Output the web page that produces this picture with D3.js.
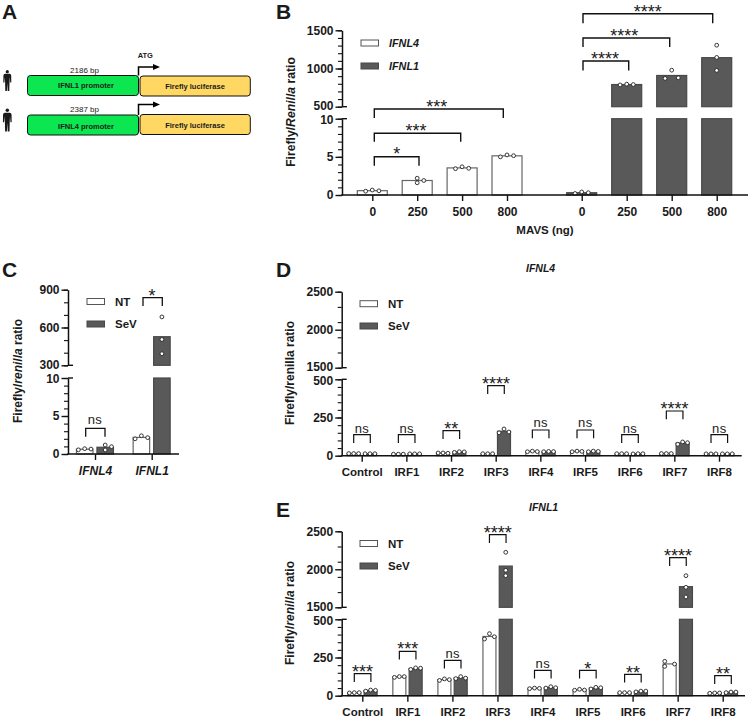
<!DOCTYPE html>
<html><head><meta charset="utf-8">
<script src="https://cdn.jsdelivr.net/npm/d3@7"></script>
<style>
html,body{margin:0;padding:0;background:#fff}
svg{display:block}
text{font-family:"Liberation Sans",Arial,sans-serif;fill:#1a1a1a}
</style></head><body>
<svg id="c" width="750" height="717"></svg>
<script>
// ---------- DATA ----------
const mavsDoses = ["0","250","500","800"];
const bIFNL4 = [[0.5,0.65,0.55],[1.6,2.2,1.9],[3.45,3.7,3.5],[5.0,5.25,5.15]];
const bIFNL1 = [[0.2,0.4,0.3],[785,795,790],[870,978,878],[975,1145,1305]];
const bSigIFNL4 = ["*","***","***"];
const bSigIFNL1 = ["****","****","****"];

const cGenes = ["IFNL4","IFNL1"];
const cNT = [[0.55,0.7,0.65],[2.0,2.4,2.15]];
const cSeV = [[1.18,0.53,0.96],[684,505,392]];
const cSig = ["ns","*"];

const irfCats = ["Control","IRF1","IRF2","IRF3","IRF4","IRF5","IRF6","IRF7","IRF8"];
const dNT = [[14,14,14],[10,10,10],[18,18,16],[13,13,13],[26,30,27],[26,30,28],[13,13,13],[14,14,14],[12,12,12]];
const dSeV = [[13,13,13],[12,12,12],[22,26,25],[150,175,155],[26,28,27],[26,30,28],[12,13,13],[75,90,85],[12,12,12]];
const dSig = ["ns","ns","**","****","ns","ns","ns","****","ns"];
const eNT = [[18,20,20],[120,125,125],[100,110,105],[371,406,386],[46,50,48],[36,42,37],[20,20,20],[225,192,207],[16,18,18]];
const eSeV = [[30,37,35],[172,182,180],[112,125,115],[2224,1987,1916],[50,59,52],[44,55,52],[25,30,30],[1916,1763,1636],[20,24,24]];
const eSig = ["***","***","ns","****","ns","*","**","****","**"];

const seriesTreat = ["NT","SeV"];
const seriesGene = ["IFNL4","IFNL1"];

// ---------- LAYOUT / STYLE ----------
const DEFAULT_SWARM = [-1,0,1];
const dark = "#595959", edgeDark = "#484848", edgeLight = "#666";
const svg = d3.select("#c");

function brokenY(p){
  return {
    low: d3.scaleLinear().domain(p.lowDomain).range([p.y0,p.yLowTop]),
    up: d3.scaleLinear().domain(p.upDomain).range([p.yUpBot,p.yUpTop])
  };
}
function drawBars(g,p,ys,cx,vals,filled,swarm){
  const m = d3.mean(vals);
  const fill = filled?dark:"#fff", st = filled?edgeDark:edgeLight;
  const lowTop = Math.min(m,p.lowDomain[1]);
  g.append("rect").attr("x",cx-p.barW/2).attr("width",p.barW)
    .attr("y",ys.low(lowTop)).attr("height",ys.low(0)-ys.low(lowTop))
    .attr("fill",fill).attr("stroke",st).attr("stroke-width",1.2);
  if(m>p.upDomain[0]){
    g.append("rect").attr("x",cx-p.barW/2).attr("width",p.barW)
      .attr("y",ys.up(m)).attr("height",ys.up(p.upDomain[0])-ys.up(m))
      .attr("fill",fill).attr("stroke",st).attr("stroke-width",1.2);
  }
  const off = swarm||DEFAULT_SWARM;
  vals.forEach((v,i)=>{
    const y = v>p.lowDomain[1]?ys.up(v):ys.low(v);
    g.append("circle").attr("cx",cx+off[i]*p.step).attr("cy",y).attr("r",1.9)
      .attr("fill","#fff").attr("stroke","#222").attr("stroke-width",0.9);
  });
}
function drawYAxis(p,ys){
  const fmt = d3.format("d");
  [[ys.low,p.lowMajor,p.lowMinor,p.lowDomain[1],1],[ys.up,p.upMajor,p.upMinor,p.upDomain[0],-1]].forEach(([s,maj,min,edge,dir])=>{
    const minor = svg.append("g").attr("transform",`translate(${p.axisX},0)`)
      .call(d3.axisLeft(s).tickValues(min).tickSize(4).tickFormat("").tickSizeOuter(0));
    minor.selectAll("line").attr("stroke","#111").attr("stroke-width",1.1);
    minor.select(".domain").attr("stroke","#111").attr("stroke-width",1.5);
    const major = svg.append("g").attr("transform",`translate(${p.axisX},0)`)
      .call(d3.axisLeft(s).tickValues(maj).tickSize(6.5).tickPadding(2).tickFormat(fmt).tickSizeOuter(0));
    major.select(".domain").remove();
    major.selectAll("line").attr("stroke","#111").attr("stroke-width",1.4);
    major.selectAll("text").attr("font-size",12).attr("font-weight","bold")
      .attr("font-family",'"Liberation Sans"').attr("fill","#1a1a1a")
      .attr("transform",d=>d===edge?`translate(0,${dir*0.95})`:null);
  });
  // break caps
  [ys.low(p.lowDomain[1]),ys.up(p.upDomain[0])].forEach(y=>{
    svg.append("line").attr("x1",p.axisX).attr("x2",p.axisX+5).attr("y1",y).attr("y2",y)
      .attr("stroke","#111").attr("stroke-width",1.4);
  });
}
function drawXAxis(p,scale,size,italic){
  const g = svg.append("g").attr("transform",`translate(0,${p.y0})`)
    .call(d3.axisBottom(scale).tickSize(6).tickPadding(6).tickSizeOuter(0));
  g.select(".domain").remove();
  g.selectAll("line").attr("stroke","#111").attr("stroke-width",1.4);
  g.selectAll("text").attr("font-size",size).attr("font-weight","bold")
    .attr("font-family",'"Liberation Sans"').attr("fill","#1a1a1a")
    .attr("font-style",italic?"italic":"normal");
}
function baseline(p){
  svg.append("line").attr("x1",p.axisX-0.7).attr("x2",p.xEnd).attr("y1",p.y0).attr("y2",p.y0)
    .attr("stroke","#111").attr("stroke-width",1.6);
}
function sigText(cx,yc,label){
  const isNs = label==="ns";
  const fs = isNs?13:18;
  svg.append("text").attr("x",cx).attr("y",isNs?yc+fs*0.26:yc+fs*0.58)
    .attr("text-anchor","middle").attr("font-size",fs)
    .attr("letter-spacing",isNs?0.4:0).attr("font-weight","normal").text(label);
}
function bracket(x1,x2,top,drop,sw,label,labelX,labelY){
  svg.append("path").attr("d",d3.line()([[x1,top+drop],[x1,top],[x2,top],[x2,top+drop]]))
    .attr("fill","none").attr("stroke","#111").attr("stroke-width",sw);
  sigText(labelX,labelY,label);
}
function yTitle(x,yc,parts,size){
  const t = svg.append("text").attr("transform",`translate(${x},${yc}) rotate(-90)`)
    .attr("text-anchor","middle").attr("font-size",size).attr("font-weight","bold");
  parts.forEach(([s,it])=>t.append("tspan").attr("font-style",it?"italic":"normal").text(s));
}
function legend(x,ys,labels,italic,txtX){
  labels.forEach((l,i)=>{
    svg.append("rect").attr("x",x).attr("y",ys[i]-3).attr("width",17.5).attr("height",6)
      .attr("fill",i?dark:"#fff").attr("stroke",i?edgeDark:"#555").attr("stroke-width",1);
    svg.append("text").attr("x",txtX).attr("y",ys[i]+4).attr("font-size",italic?10.8:11.5)
      .attr("font-weight","bold").attr("font-style",italic?"italic":"normal").text(l);
  });
}
function letter(s,x,y){
  svg.append("text").attr("x",x).attr("y",y).attr("font-size",21).attr("font-weight","bold")
    .attr("fill","#111").text(s);
}
const range = (a,b,s)=>d3.range(a,b+s/2,s);

// ---------- PANEL A ----------
letter("A",2,19);
function human(cx,top,h){
  const k = h/21;
  const g = svg.append("g").attr("transform",`translate(${cx},${top}) scale(${k})`);
  g.append("circle").attr("cx",0).attr("cy",1.7).attr("r",1.6).attr("fill","#1a1a1a");
  g.append("path").attr("fill","#1a1a1a")
   .attr("d","M-2.2,3.8 L2.2,3.8 Q3.8,4 3.9,5.6 L4,12.5 L2.9,12.5 L2.5,7 L2.2,12.5 L2,21 L0.4,21 L0,13 L-0.4,21 L-2,21 L-2.2,12.5 L-2.5,7 L-2.9,12.5 L-4,12.5 L-3.9,5.6 Q-3.8,4 -2.2,3.8 Z");
}
const aRows = [
 {bp:"2186 bp",prom:"IFNL1 promoter",gy:75.5,yy:76,by:69.5,py:85.5,ly:86,ay:67,hy:70,hh:21},
 {bp:"2387 bp",prom:"IFNL4 promoter",gy:115,yy:114.5,by:109,py:126,ly:125,ay:104.5,hy:108.5,hh:23}
];
aRows.forEach(r=>{
  human(7.3,r.hy,r.hh);
  svg.append("rect").attr("x",27.5).attr("y",r.gy).attr("width",111).attr("height",20).attr("rx",3)
    .attr("fill","#0ce650").attr("stroke","#111").attr("stroke-width",1);
  svg.append("rect").attr("x",140).attr("y",r.yy).attr("width",110.3).attr("height",20).attr("rx",3)
    .attr("fill","#ffd763").attr("stroke","#111").attr("stroke-width",1);
  svg.append("text").attr("x",84.5).attr("y",r.by+3).attr("text-anchor","middle").attr("font-size",8).attr("fill","#333").text(r.bp);
  svg.append("text").attr("x",86).attr("y",r.py+2.7).attr("text-anchor","middle").attr("font-size",7.5).attr("font-weight","bold").text(r.prom);
  svg.append("text").attr("x",195).attr("y",r.ly+2.7).attr("text-anchor","middle").attr("font-size",7.5).attr("font-weight","bold").text("Firefly luciferase");
  svg.append("path").attr("d",d3.line()([[138.5,r.gy],[138.5,r.ay],[154,r.ay]])).attr("fill","none").attr("stroke","#000").attr("stroke-width",1.5);
  svg.append("path").attr("d",d3.line()([[153,r.ay-3],[160,r.ay],[153,r.ay+3]])).attr("fill","#000");
});
svg.append("text").attr("x",145.3).attr("y",58).attr("text-anchor","middle").attr("font-size",7.5).attr("font-weight","bold").text("ATG");

// ---------- PANEL B ----------
letter("B",276,19);
const pB = {axisX:342,xEnd:748,y0:195,yLowTop:118.7,yUpBot:106.7,yUpTop:30.3,
  lowDomain:[0,10],upDomain:[500,1500],lowMajor:[0,5,10],lowMinor:range(0,10,1),
  upMajor:[500,1000,1500],upMinor:range(500,1500,100),barW:30,step:6.6};
const yB = brokenY(pB);
const xB4 = d3.scalePoint().domain(mavsDoses).range([372.3,507]);
const xB1 = d3.scalePoint().domain(mavsDoses).range([581.7,716.7]);
const bSwarm4 = {1:[0,0,1]}, bSwarm1 = {3:[0,0,0]};
const gB = svg.append("g");
mavsDoses.forEach((d,i)=>{
  drawBars(gB,pB,yB,xB4(d),bIFNL4[i],false,bSwarm4[i]);
  drawBars(gB,pB,yB,xB1(d),bIFNL1[i],true,bSwarm1[i]);
});
drawYAxis(pB,yB); baseline(pB); drawXAxis(pB,xB4,12); drawXAxis(pB,xB1,12);
yTitle(294.5,112,[["Firefly/",0],["Renilla",1],[" ratio",0]],12.2);
legend(361,[43,66],seriesGene,true,389);
svg.append("text").attr("x",545).attr("y",234).attr("text-anchor","middle").attr("font-size",11.5).attr("font-weight","bold").text("MAVS (ng)");
const bBr4 = [[419,156.7,9,396.7,150],[460.7,133.3,8.5,416,126.7],[503.3,109,9,436.7,103]];
const bBr1 = [[628.7,61,9.5,605,55],[669.7,38,9,624.3,31.7],[712.7,13.7,9.5,647.7,7.3]];
bSigIFNL4.forEach((s,i)=>{const b=bBr4[i];bracket(374.3,b[0],b[1],b[2],1.4,s,b[3],b[4]);});
bSigIFNL1.forEach((s,i)=>{const b=bBr1[i];bracket(583,b[0],b[1],b[2],1.4,s,b[3],b[4]);});

// ---------- PANEL C ----------
letter("C",2,277);
const pC = {axisX:68,xEnd:179,y0:454,yLowTop:378,yUpBot:365.3,yUpTop:289.7,
  lowDomain:[0,10],upDomain:[300,900],lowMajor:[0,5,10],lowMinor:range(0,10,1),
  upMajor:[300,600,900],upMinor:range(300,900,100),barW:16.5,step:6.3};
const yC = brokenY(pC);
const xC = d3.scalePoint().domain(cGenes).range([95,151.7]);
const cSwarmSeV = {0:[0,0,1],1:[0,0,0]};
const gC = svg.append("g");
cGenes.forEach((d,i)=>{
  drawBars(gC,pC,yC,xC(d)-10.3,cNT[i],false);
  drawBars(gC,pC,yC,xC(d)+10.2,cSeV[i],true,cSwarmSeV[i]);
});
drawYAxis(pC,yC); baseline(pC); drawXAxis(pC,xC,12,true);
yTitle(21.5,371,[["Firefly/",0],["renilla",1],[" ratio",0]],12);
legend(87,[301.5,324],seriesTreat,false,115);
const cBr = [[85.7,105,428.3,8.4,95,421],[143,162.3,297.7,8.3,152,291.7]];
cSig.forEach((s,i)=>{const b=cBr[i];bracket(b[0],b[1],b[2],b[3],1.3,s,b[4],b[5]);});

// ---------- PANELS D / E ----------
function irfPanel(p,nt,sev,sig,swNT,swSeV,brTop,labY,xr){
  const ys = brokenY(p);
  const x = d3.scalePoint().domain(irfCats).range(xr);
  const g = svg.append("g");
  irfCats.forEach((c,i)=>{
    drawBars(g,p,ys,x(c)-8,nt[i],false,swNT[i]);
    drawBars(g,p,ys,x(c)+8.3,sev[i],true,swSeV[i]);
  });
  drawYAxis(p,ys); baseline(p); drawXAxis(p,x,11.5);
  sig.forEach((s,i)=>{
    const cx = x(irfCats[i]);
    bracket(cx-8,cx+8.6,brTop[i],8.3,1.2,s,cx+0.3,labY[i]);
  });
}
letter("D",276,277);
irfPanel({axisX:341.7,xEnd:741.7,y0:455.7,yLowTop:379.3,yUpBot:367.7,yUpTop:291.7,
  lowDomain:[0,500],upDomain:[1500,2500],lowMajor:[0,250,500],lowMinor:range(0,500,50),
  upMajor:[1500,2000,2500],upMinor:range(1500,2500,200),barW:13,step:4.9},
  dNT,dSeV,dSig,{},{},
  [434.7,434.7,430.7,385.7,430,430,434.7,411,434.7],
  [429.3,429.3,424.7,380,424,424,429.3,405,429.3],
  [361.7,719]);
yTitle(294,373,[["Firefly/renilla ratio",0]],12);
legend(360,[303.7,326],seriesTreat,false,388);
svg.append("text").attr("x",526).attr("y",272).attr("font-size",10.5).attr("font-weight","bold").attr("font-style","italic").text("IFNL4");

letter("E",276,517);
irfPanel({axisX:341.7,xEnd:745,y0:695.7,yLowTop:619.3,yUpBot:607.3,yUpTop:531.3,
  lowDomain:[0,500],upDomain:[1500,2500],lowMajor:[0,250,500],lowMinor:range(0,500,50),
  upMajor:[1500,2000,2500],upMinor:range(1500,2500,200),barW:13,step:4.9},
  eNT,eSeV,eSig,{7:[-1,-1,1]},{3:[0,0,0],7:[0,0,0]},
  [673.7,651.3,660.3,534.7,670.3,670.3,674.3,557.7,675.7],
  [667.7,645,655,528.7,665,665,669,551.7,670],
  [362.3,722.7]);
yTitle(294,613,[["Firefly/",0],["renilla",1],[" ratio",0]],12);
legend(360,[543.5,566],seriesTreat,false,388);
svg.append("text").attr("x",529).attr("y",511).attr("font-size",10.5).attr("font-weight","bold").attr("font-style","italic").text("IFNL1");
</script>
</body></html>
